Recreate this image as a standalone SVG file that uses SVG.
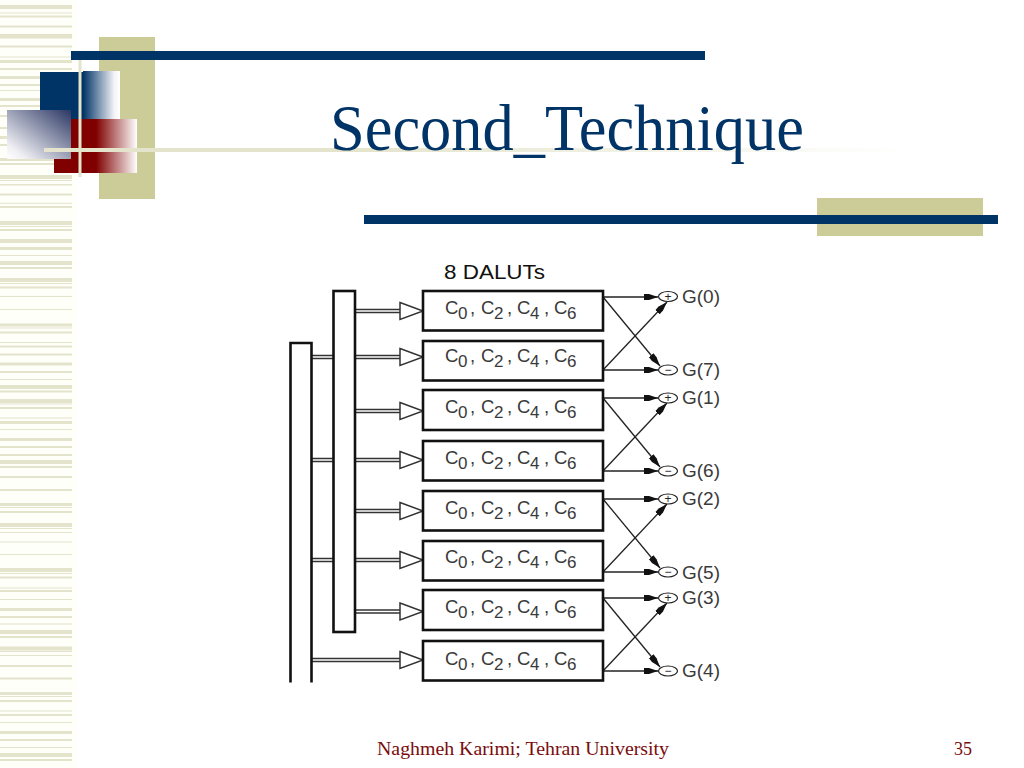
<svg xmlns="http://www.w3.org/2000/svg" width="1024" height="768" viewBox="0 0 1024 768">
<style>
.s{fill:#e4e4cc}
.box{fill:#fff;stroke:#111;stroke-width:2.6}
.bar{fill:#fff;stroke:#111;stroke-width:2.6}
.bus{fill:none;stroke:#333;stroke-width:1.4}
.head{fill:#fff;stroke:#333;stroke-width:1.5}
.wire{fill:none;stroke:#222;stroke-width:1.3;marker-end:url(#tip)}
.sum{fill:#fff;stroke:#222;stroke-width:1.2}
.t{font-family:"Liberation Sans",Arial,sans-serif;fill:#3a3a3a}
.c{font-size:18.5px}
.g{font-size:19px}
.sg{font-size:12px;fill:#222;text-anchor:middle;font-family:"Liberation Sans",Arial,sans-serif}
.f{font-family:"Liberation Serif","Times New Roman",serif;fill:#7a0c0c;font-size:18px}
</style>
<defs>
<marker id="tip" markerUnits="userSpaceOnUse" markerWidth="15" markerHeight="10" refX="14" refY="5" orient="auto"><path d="M0 2H5L14 5L5 8H0Z" fill="#111"/></marker>
<linearGradient id="nv" x1="0" x2="1" y1="0" y2="0"><stop offset="0" stop-color="#003366"/><stop offset=".85" stop-color="#f4f4f8"/><stop offset="1" stop-color="#fff"/></linearGradient>
<linearGradient id="rd" x1="0" x2="1" y1="0" y2="0"><stop offset="0" stop-color="#800000"/><stop offset="1" stop-color="#fff"/></linearGradient>
<linearGradient id="dg" x1="1" x2="0" y1="0" y2="1"><stop offset="0" stop-color="#2b3764"/><stop offset=".85" stop-color="#f0f0f4"/><stop offset="1" stop-color="#fff"/></linearGradient>
<linearGradient id="fade" x1="0" x2="1" y1="0" y2="0"><stop offset="0" stop-color="#e4e4cc"/><stop offset=".35" stop-color="#e4e4cc"/><stop offset="1" stop-color="#fff"/></linearGradient>
</defs>
<rect width="1024" height="768" fill="#fff"/>
<g id="stripes">
<rect x="0" y="0" width="76" height="768" fill="#fffffa"/>
<path class="s" d="M0 5h72v4H0zM0 12.500h72v1H0zM0 15.500h72v2H0zM0 25.500h72v2H0zM0 34h72v4.500H0zM0 45.500h72v2H0zM0 56.500h72v1H0zM0 60h72v3H0zM0 68h72v2H0zM0 76h72v3H0zM0 84h72v2H0zM0 90h72v1H0zM0 98h72v3H0zM0 105h72v2H0zM0 115h72v2H0zM0 127h72v2H0zM0 136h72v3H0zM0 144h72v2H0zM0 158h72v3H0zM0 163h72v2H0zM0 175h72v4H0zM0 180h72v1H0zM0 184h72v1.500H0zM0 193.500h72v2H0zM0 202.700h72v1H0zM0 206h72v2H0zM0 221h72v4H0zM0 226h72v1H0zM0 229h72v2H0zM0 239h72v4H0zM0 247h72v3H0zM0 255h72v1H0zM0 261h72v4H0zM0 267h72v2H0zM0 278h72v4H0zM0 283h72v1H0zM0 286.500h72v2H0zM0 296h72v1H0zM0 309h72v1H0zM0 323.500h72v3H0zM0 327.500h72v1H0zM0 331.500h72v2H0zM0 342h72v1H0zM0 345.500h72v2H0zM0 353.500h72v2H0zM0 362.500h72v3H0zM0 371h72v2H0zM0 379h72v1H0zM0 385h72v4H0zM0 390.500h72v2H0zM0 399h72v4H0zM0 403.500h72v1H0zM0 407h72v2H0zM0 417.500h72v1H0zM0 421h72v3H0zM0 429h72v1H0zM0 438h72v3H0zM0 446h72v2H0zM0 454h72v2H0zM0 460h72v4H0zM0 466h72v2H0zM0 476h72v2H0zM0 489h72v2H0zM0 503h72v3H0zM0 507h72v1H0zM0 511h72v2H0zM0 523h72v4H0zM0 528h72v1H0zM0 532h72v1H0zM0 541.500h72v1H0zM0 554h72v1H0zM0 568h72v4H0zM0 573h72v1H0zM0 576.500h72v2H0zM0 587.500h72v1H0zM0 590h72v2H0zM0 599h72v1H0zM0 608h72v3H0zM0 616h72v2H0zM0 623.500h72v1H0zM0 630h72v4H0zM0 636h72v2H0zM0 646.500h72v4H0zM0 651h72v1H0zM0 655h72v1H0zM0 665h72v2H0zM0 677.500h72v2H0zM0 692h72v3H0zM0 696h72v1H0zM0 700h72v2H0zM0 710.500h72v1H0zM0 714h72v2H0zM0 722h72v1H0zM0 731h72v3H0zM0 739h72v2H0zM0 747h72v1H0zM0 753h72v4H0zM0 759h72v2H0z"/>
</g>
<g id="decor">
<rect x="99" y="37" width="56" height="162" fill="#cccc99"/>
<rect x="817" y="198" width="166" height="38" fill="#cccc99"/>
<rect x="40" y="72" width="43" height="47" fill="#003366"/>
<rect x="83" y="71" width="37" height="48" fill="url(#nv)"/>
<rect x="54" y="119" width="42" height="54" fill="#800000"/>
<rect x="96" y="119" width="41" height="54" fill="url(#rd)"/>
<rect x="7" y="110" width="64" height="49" fill="url(#dg)"/>
<rect x="44" y="148" width="866" height="4" fill="url(#fade)"/>
<rect x="78.500" y="60" width="3" height="117" fill="#e4e4cc"/>
<rect x="71" y="51" width="634" height="9" fill="#003366"/>
<rect x="364" y="215" width="634" height="9" fill="#003366"/>
</g>
<text id="title" x="330" y="150" font-family="'Liberation Serif','Times New Roman',serif" font-size="65" fill="#003366" textLength="474" lengthAdjust="spacingAndGlyphs">Second_Technique</text>
<g id="connectors">
<path class="bus" d="M311.500 355.500H334M311.500 358.500H334M311.500 458.500H334M311.500 461.500H334M311.500 558.500H334M311.500 561.500H334"/>
<path class="bus" d="M355 309.500H400M355 312.500H400M355 355.500H400M355 358.500H400M355 409.500H400M355 412.500H400M355 458.500H400M355 461.500H400M355 509.500H400M355 512.500H400M355 558.500H400M355 561.500H400M355 610H400M355 613H400M311.500 658.500H400M311.500 661.500H400"/>
<polygon class="head" points="400,302.500 423,311 400,319.500"/>
<polygon class="head" points="400,348.500 423,357 400,365.500"/>
<polygon class="head" points="400,402.500 423,411 400,419.500"/>
<polygon class="head" points="400,451.500 423,460 400,468.500"/>
<polygon class="head" points="400,502.500 423,511 400,519.500"/>
<polygon class="head" points="400,551.500 423,560 400,568.500"/>
<polygon class="head" points="400,603 423,611.500 400,620"/>
<polygon class="head" points="400,651.500 423,660 400,668.500"/>
<path class="wire" d="M603 297H658"/><path class="wire" d="M603 370H658"/><path class="wire" d="M603 297L660 366"/><path class="wire" d="M603 370L667 302"/>
<path class="wire" d="M603 398H658"/><path class="wire" d="M603 471H658"/><path class="wire" d="M603 398L660 467"/><path class="wire" d="M603 471L667 403"/>
<path class="wire" d="M603 499H658"/><path class="wire" d="M603 572H658"/><path class="wire" d="M603 499L660 568"/><path class="wire" d="M603 572L667 504"/>
<path class="wire" d="M603 598H658"/><path class="wire" d="M603 671H658"/><path class="wire" d="M603 598L660 667"/><path class="wire" d="M603 671L667 603"/>
</g>
<g id="bar-outer"><path class="bar" d="M290.500 682.500V343H311.500V682.500"/></g>
<g id="bar-inner"><rect class="bar" x="333.500" y="291" width="21.500" height="341"/></g>
<text id="dalut-title" class="t" x="444" y="279" font-size="20" style="fill:#111" textLength="101" lengthAdjust="spacingAndGlyphs">8 DALUTs</text>
<g id="lut0"><rect class="box" x="423" y="291" width="180" height="39.500"/><text class="t c" y="314"><tspan x="445">C</tspan><tspan x="458" dy="5" font-size="17">0</tspan><tspan x="470" dy="-5">,</tspan><tspan x="481">C</tspan><tspan x="494" dy="5" font-size="17">2</tspan><tspan x="507" dy="-5">,</tspan><tspan x="517">C</tspan><tspan x="530" dy="5" font-size="17">4</tspan><tspan x="544" dy="-5">,</tspan><tspan x="554">C</tspan><tspan x="567" dy="5" font-size="17">6</tspan></text></g>
<g id="lut1"><rect class="box" x="423" y="341" width="180" height="39.500"/><text class="t c" y="362"><tspan x="445">C</tspan><tspan x="458" dy="5" font-size="17">0</tspan><tspan x="470" dy="-5">,</tspan><tspan x="481">C</tspan><tspan x="494" dy="5" font-size="17">2</tspan><tspan x="507" dy="-5">,</tspan><tspan x="517">C</tspan><tspan x="530" dy="5" font-size="17">4</tspan><tspan x="544" dy="-5">,</tspan><tspan x="554">C</tspan><tspan x="567" dy="5" font-size="17">6</tspan></text></g>
<g id="lut2"><rect class="box" x="423" y="390" width="180" height="40"/><text class="t c" y="413"><tspan x="445">C</tspan><tspan x="458" dy="5" font-size="17">0</tspan><tspan x="470" dy="-5">,</tspan><tspan x="481">C</tspan><tspan x="494" dy="5" font-size="17">2</tspan><tspan x="507" dy="-5">,</tspan><tspan x="517">C</tspan><tspan x="530" dy="5" font-size="17">4</tspan><tspan x="544" dy="-5">,</tspan><tspan x="554">C</tspan><tspan x="567" dy="5" font-size="17">6</tspan></text></g>
<g id="lut3"><rect class="box" x="423" y="441" width="180" height="39.500"/><text class="t c" y="464"><tspan x="445">C</tspan><tspan x="458" dy="5" font-size="17">0</tspan><tspan x="470" dy="-5">,</tspan><tspan x="481">C</tspan><tspan x="494" dy="5" font-size="17">2</tspan><tspan x="507" dy="-5">,</tspan><tspan x="517">C</tspan><tspan x="530" dy="5" font-size="17">4</tspan><tspan x="544" dy="-5">,</tspan><tspan x="554">C</tspan><tspan x="567" dy="5" font-size="17">6</tspan></text></g>
<g id="lut4"><rect class="box" x="423" y="491" width="180" height="39.500"/><text class="t c" y="514"><tspan x="445">C</tspan><tspan x="458" dy="5" font-size="17">0</tspan><tspan x="470" dy="-5">,</tspan><tspan x="481">C</tspan><tspan x="494" dy="5" font-size="17">2</tspan><tspan x="507" dy="-5">,</tspan><tspan x="517">C</tspan><tspan x="530" dy="5" font-size="17">4</tspan><tspan x="544" dy="-5">,</tspan><tspan x="554">C</tspan><tspan x="567" dy="5" font-size="17">6</tspan></text></g>
<g id="lut5"><rect class="box" x="423" y="541" width="180" height="39.500"/><text class="t c" y="563"><tspan x="445">C</tspan><tspan x="458" dy="5" font-size="17">0</tspan><tspan x="470" dy="-5">,</tspan><tspan x="481">C</tspan><tspan x="494" dy="5" font-size="17">2</tspan><tspan x="507" dy="-5">,</tspan><tspan x="517">C</tspan><tspan x="530" dy="5" font-size="17">4</tspan><tspan x="544" dy="-5">,</tspan><tspan x="554">C</tspan><tspan x="567" dy="5" font-size="17">6</tspan></text></g>
<g id="lut6"><rect class="box" x="423" y="590" width="180" height="40"/><text class="t c" y="613"><tspan x="445">C</tspan><tspan x="458" dy="5" font-size="17">0</tspan><tspan x="470" dy="-5">,</tspan><tspan x="481">C</tspan><tspan x="494" dy="5" font-size="17">2</tspan><tspan x="507" dy="-5">,</tspan><tspan x="517">C</tspan><tspan x="530" dy="5" font-size="17">4</tspan><tspan x="544" dy="-5">,</tspan><tspan x="554">C</tspan><tspan x="567" dy="5" font-size="17">6</tspan></text></g>
<g id="lut7"><rect class="box" x="423" y="641" width="180" height="39.500"/><text class="t c" y="665"><tspan x="445">C</tspan><tspan x="458" dy="5" font-size="17">0</tspan><tspan x="470" dy="-5">,</tspan><tspan x="481">C</tspan><tspan x="494" dy="5" font-size="17">2</tspan><tspan x="507" dy="-5">,</tspan><tspan x="517">C</tspan><tspan x="530" dy="5" font-size="17">4</tspan><tspan x="544" dy="-5">,</tspan><tspan x="554">C</tspan><tspan x="567" dy="5" font-size="17">6</tspan></text></g>
<g id="out0"><ellipse class="sum" cx="668" cy="296.500" rx="9.500" ry="5"/><text class="sg" x="668" y="300.500">+</text><text class="t g" x="682" y="303" textLength="38" lengthAdjust="spacingAndGlyphs">G(0)</text></g>
<g id="out7"><ellipse class="sum" cx="668" cy="370" rx="9.500" ry="5"/><text class="sg" x="668" y="374">−</text><text class="t g" x="682" y="376" textLength="38" lengthAdjust="spacingAndGlyphs">G(7)</text></g>
<g id="out1"><ellipse class="sum" cx="668" cy="398" rx="9.500" ry="5"/><text class="sg" x="668" y="402">+</text><text class="t g" x="682" y="404" textLength="38" lengthAdjust="spacingAndGlyphs">G(1)</text></g>
<g id="out6"><ellipse class="sum" cx="668" cy="471" rx="9.500" ry="5"/><text class="sg" x="668" y="475">−</text><text class="t g" x="682" y="477" textLength="38" lengthAdjust="spacingAndGlyphs">G(6)</text></g>
<g id="out2"><ellipse class="sum" cx="668" cy="499" rx="9.500" ry="5"/><text class="sg" x="668" y="503">+</text><text class="t g" x="682" y="505" textLength="38" lengthAdjust="spacingAndGlyphs">G(2)</text></g>
<g id="out5"><ellipse class="sum" cx="668" cy="572" rx="9.500" ry="5"/><text class="sg" x="668" y="576">−</text><text class="t g" x="682" y="579" textLength="38" lengthAdjust="spacingAndGlyphs">G(5)</text></g>
<g id="out3"><ellipse class="sum" cx="668" cy="598" rx="9.500" ry="5"/><text class="sg" x="668" y="602">+</text><text class="t g" x="682" y="604" textLength="38" lengthAdjust="spacingAndGlyphs">G(3)</text></g>
<g id="out4"><ellipse class="sum" cx="668" cy="671" rx="9.500" ry="5"/><text class="sg" x="668" y="675">−</text><text class="t g" x="682" y="677" textLength="38" lengthAdjust="spacingAndGlyphs">G(4)</text></g>
<text class="f" x="377" y="755" textLength="292" lengthAdjust="spacingAndGlyphs">Naghmeh Karimi; Tehran University</text>
<text class="f" x="954" y="755">35</text>
</svg>
